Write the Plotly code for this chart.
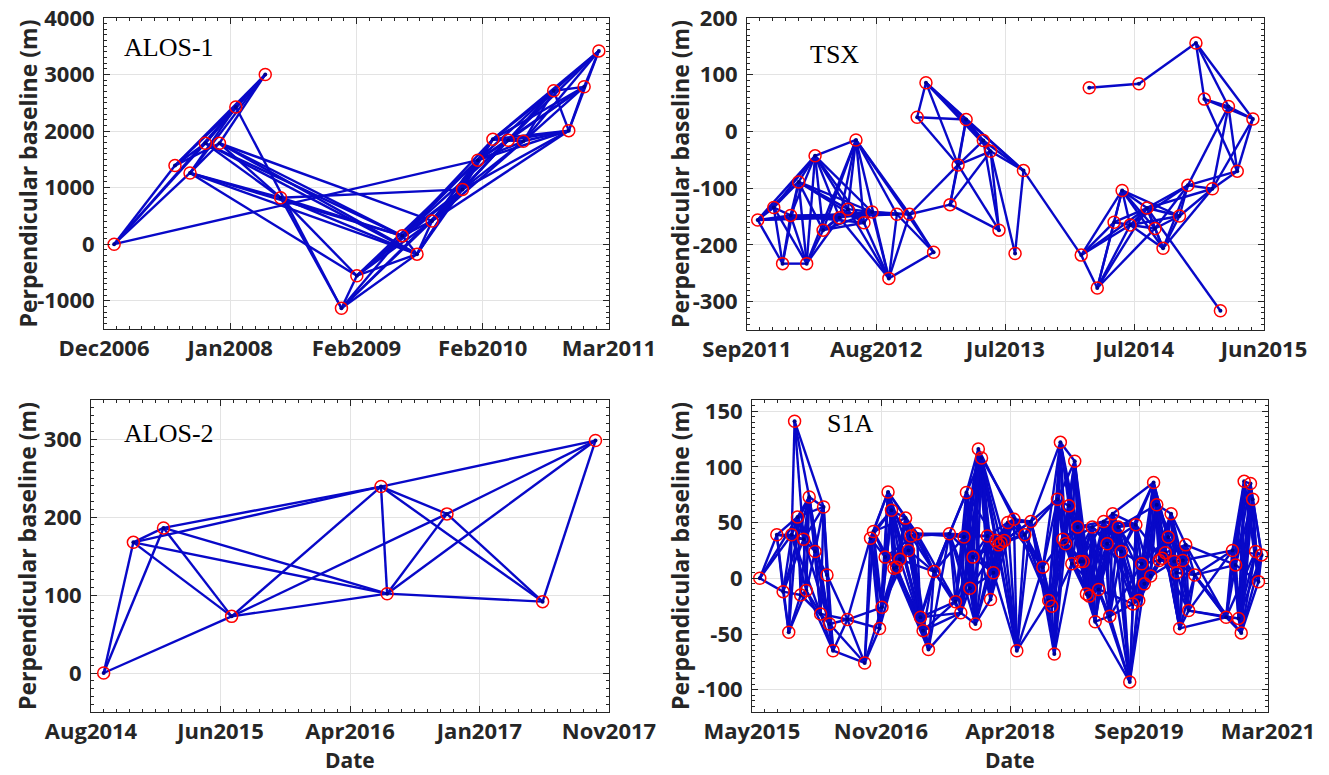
import numpy as np
import pandas as pd
import plotly.graph_objects as go

W, H = 1329, 775

# ---------------- ALOS-1 ----------------
alos1_dates = ["2007-01-25", "2007-07-30", "2007-09-14", "2007-10-31", "2007-12-13", "2008-02-01",
               "2008-05-01", "2008-06-17", "2008-12-20", "2009-02-05", "2009-06-24", "2009-08-08",
               "2009-09-23", "2009-12-25", "2010-02-10", "2010-03-28", "2010-05-14", "2010-06-29",
               "2010-09-30", "2010-11-15", "2011-01-01", "2011-02-15"]
alos1_bperp = [0, 1390, 1260, 1785, 1785, 2425, 3000, 822, -1133, -558, 147, -176,
               411, 969, 1486, 1856, 1838, 1820, 2713, 2008, 2783, 3418]
alos1_pairs = """1-2 1-3 1-4 1-6 1-15 2-4 2-5 2-6 2-7 3-5 3-6 3-7 3-8 3-10 3-11 3-12
4-6 4-7 4-8 4-11 4-12 5-7 5-8 5-11 5-12 5-13 6-7 6-9 8-9 8-10 8-11 8-12 8-14
9-10 9-11 9-12 9-13 9-14 10-11 10-12 10-13 10-14 10-15 11-12 11-13 11-14 11-15 11-16 11-17
12-13 12-14 12-15 12-16 13-14 13-15 13-16 13-17 13-18 13-20 14-15 14-16 14-17 14-18 14-19 14-20
15-16 15-17 15-18 15-19 15-20 15-21 16-17 16-18 16-19 16-20 16-21 16-22 17-18 17-19 17-20 17-21 17-22
18-19 18-20 18-21 18-22 19-20 19-21 19-22 20-21 20-22 21-22"""
alos1_xlim = ["2006-12-25", "2011-03-18"]
alos1_xticklabels = ["Dec2006", "Jan2008", "Feb2009", "Feb2010", "Mar2011"]
alos1_ylim = [-1500, 4000]
alos1_yticks = [-1000, 0, 1000, 2000, 3000, 4000]

# ---------------- TSX ----------------
tsx_dates = ["2011-10-19", "2011-11-30", "2011-12-23", "2012-01-13", "2012-02-03", "2012-02-24",
             "2012-03-17", "2012-04-07", "2012-05-20", "2012-06-11", "2012-07-02", "2012-07-23",
             "2012-08-13", "2012-09-26", "2012-10-17", "2012-11-19", "2012-12-09", "2013-01-01",
             "2013-01-21", "2013-03-05", "2013-03-26", "2013-04-16", "2013-05-31", "2013-06-19",
             "2013-07-11", "2013-08-22", "2013-09-13", "2014-02-11", "2014-03-04", "2014-03-25",
             "2014-05-08", "2014-05-29", "2014-06-19", "2014-07-12", "2014-08-02", "2014-08-23",
             "2014-09-13", "2014-10-26", "2014-11-17", "2014-12-08", "2014-12-30", "2015-01-20",
             "2015-02-10", "2015-03-03", "2015-03-26", "2015-05-06"]
tsx_bperp = [-156, -134, -233, -148, -89, -233, -43, -174, -152, -137, -15, -161,
             -142, -259, -146, -146, 25, 86, -213, -129, -59, 21, -16, -35,
             -174, -215, -69, -218, 77, -276, -160, -104, -165, 84, -135, -171,
             -206, -149, -95, 156, 57, -101, -316, 44, -70, 22]
tsx_pairs = """1-2 1-3 1-4 1-5 1-7 1-9 1-13 1-15 2-3 2-4 2-5 2-6 2-7 3-4 3-5 3-6 4-5 4-6 4-7 4-12 4-15
5-6 5-7 5-8 5-10 5-12 5-13 6-7 6-8 6-9 6-11 7-8 7-9 7-10 7-11 7-12 7-13 8-9 8-10 8-11 8-12 8-13
9-11 9-13 9-14 10-11 10-13 10-14 11-12 11-14 11-15 11-16 11-19 12-13 12-14 13-14 13-15 13-16
14-15 14-16 14-19 15-16 15-19 16-19 16-20 16-21 17-18 17-21 17-22 18-21 18-22 18-23 18-24 18-27
20-21 20-22 20-24 20-25 21-22 21-23 21-24 21-25 22-23 22-24 22-27 23-24 23-25 23-27 24-25 24-26 24-27
26-27 27-28 28-30 28-31 28-32 28-33 28-35 29-34 34-40 30-31 30-32 30-33 30-35 30-36 31-32 31-33 31-35
32-33 32-35 32-36 32-37 32-38 33-35 33-36 33-37 33-38 33-39 35-36 35-37 35-38 35-39 35-42 35-43
36-37 36-38 36-39 37-38 37-39 37-42 38-39 38-42 39-42 39-44 39-45 40-41 40-44 40-46 41-44 41-45 41-46
42-44 42-45 42-46 44-45 44-46 45-46"""
tsx_xlim = ["2011-09-21", "2015-06-04"]
tsx_xticklabels = ["Sep2011", "Aug2012", "Jul2013", "Jul2014", "Jun2015"]
tsx_ylim = [-350, 200]
tsx_yticks = [-300, -200, -100, 0, 100, 200]

# ---------------- ALOS-2 ----------------
alos2_dates = ["2014-09-13", "2014-11-20", "2015-01-28", "2015-07-03", "2016-06-09",
               "2016-06-23", "2016-11-07", "2017-06-14", "2017-10-13"]
alos2_bperp = [0, 167.5, 186, 72.6, 239, 101.7, 204, 91.5, 298]
alos2_pairs = """1-2 1-3 1-4 2-3 2-4 2-5 2-6 3-4 3-5 3-6 4-5 4-6 4-7 5-6 5-7 5-8 5-9
6-7 6-8 6-9 7-8 7-9 8-9"""
alos2_xlim = ["2014-08-15", "2017-11-13"]
alos2_xticklabels = ["Aug2014", "Jun2015", "Apr2016", "Jan2017", "Nov2017"]
alos2_ylim = [-50, 350]
alos2_yticks = [0, 100, 200, 300]

# ---------------- S1A ----------------
s1a_dates = ["2015-06-23", "2015-09-01", "2015-09-27", "2015-10-20", "2015-11-01", "2015-11-13",
             "2015-11-25", "2015-12-08", "2015-12-20", "2015-12-31", "2016-01-12", "2016-02-05",
             "2016-02-28", "2016-03-11", "2016-03-25", "2016-04-05", "2016-04-19", "2016-06-17",
             "2016-08-27", "2016-09-20", "2016-10-02", "2016-10-27", "2016-11-06", "2016-11-19",
             "2016-12-01", "2016-12-15", "2016-12-25", "2017-01-05", "2017-01-19", "2017-02-11",
             "2017-02-23", "2017-03-05", "2017-03-30", "2017-04-13", "2017-04-24", "2017-05-16",
             "2017-06-08", "2017-08-10", "2017-09-04", "2017-09-26", "2017-10-09", "2017-10-19",
             "2017-11-02", "2017-11-15", "2017-11-25", "2017-12-07", "2017-12-20", "2018-01-13",
             "2018-01-26", "2018-02-07", "2018-02-17", "2018-02-28", "2018-03-10", "2018-03-24",
             "2018-04-07", "2018-05-02", "2018-05-14", "2018-06-16", "2018-07-11", "2018-08-29",
             "2018-09-22", "2018-10-05", "2018-10-15", "2018-10-28", "2018-11-09", "2018-11-19",
             "2018-12-01", "2018-12-14", "2018-12-26", "2019-01-07", "2019-01-19", "2019-01-30",
             "2019-02-11", "2019-02-24", "2019-03-08", "2019-03-20", "2019-04-01", "2019-04-15",
             "2019-05-06", "2019-05-20", "2019-05-31", "2019-06-12", "2019-07-05", "2019-07-17",
             "2019-08-21", "2019-09-03", "2019-09-15", "2019-09-27", "2019-10-09", "2019-10-20",
             "2019-11-15", "2019-11-27", "2019-12-10", "2019-12-20", "2020-01-01", "2020-01-14",
             "2020-01-26", "2020-02-07", "2020-02-20", "2020-03-01", "2020-03-13", "2020-03-26",
             "2020-04-07", "2020-04-19", "2020-05-14", "2020-09-20", "2020-10-16", "2020-10-29",
             "2020-11-10", "2020-11-21", "2020-12-03", "2020-12-29", "2021-01-07", "2021-01-19",
             "2021-01-31", "2021-02-13"]
s1a_bperp = [0, 39, -12, -48.5, 39, 141, 55, -15, 35, -11, 73, 24,
             -32, 64, 3, -41, -65, -37, -76, 36, 42, -45, -26, 19,
             77.5, 61, 9, 10, 17, 54, 25, 38, 40, -35, -47, -64,
             6, 40, -21, -31, 37, 77, -9, 19, -41, 116, 108, 38,
             -19, 5, 34, 30, 32, 34, 50, 53, -65, 39, 51, 10,
             -20, -25, -68, 71, 122, 35, 31, 65, 13, 105, 46, 15,
             15, -14, -16, 46, -39, -10, 51, 31, -34, 58, 46, 24,
             -93, -23, 48, -20, 13, -5, 2, 86, 66, 16, 18, 23,
             37, 58, 15, 5, -45, 16, 30, -29, 3, -35, 25, 12,
             -36, -49, 87, 85, 71, 24, -3, 21]
s1a_links = {
    1: [2, 3, 5, 7], 2: [3, 4, 5, 7, 9], 3: [4, 5, 8, 9, 11], 4: [5, 7, 8, 10],
    5: [6, 7, 9, 10, 11, 13], 6: [9, 11, 14], 7: [8, 9, 11, 12, 14], 8: [10, 11, 13, 16],
    9: [10, 11, 12, 14, 16], 10: [11, 12, 13, 17], 11: [12, 13, 14, 16, 17], 12: [13, 14, 15, 17],
    13: [14, 16, 17, 18], 14: [15, 16, 17], 15: [16, 17, 18], 16: [17, 18, 19], 17: [18, 19],
    18: [19, 20, 22, 23], 19: [20, 21, 22, 23], 20: [21, 22, 23, 24, 25, 26],
    21: [22, 23, 24, 25, 26, 27, 30], 22: [23, 24, 25, 26, 28], 23: [24, 25, 26, 27, 29, 31],
    24: [25, 26, 27, 28, 29, 31, 33], 25: [26, 27, 28, 30, 31, 33, 34, 35],
    26: [27, 28, 29, 30, 32, 35, 36], 27: [28, 29, 30, 31, 34, 36], 28: [29, 30, 31, 33, 35, 36],
    29: [30, 31, 32, 33, 35, 37], 30: [31, 32, 33, 34, 36, 37], 31: [32, 33, 34, 35, 37],
    32: [33, 35, 36, 37, 38], 33: [34, 37, 38, 39, 41], 34: [35, 37, 38, 39, 40],
    35: [36, 37, 39, 40], 36: [37, 38, 40], 37: [38, 39, 40, 41, 42],
    38: [39, 40, 41, 42, 43, 44, 45, 48], 39: [40, 41, 42, 43, 44, 46],
    40: [41, 42, 43, 44, 45, 46, 47], 41: [42, 43, 44, 45, 47, 48, 50],
    42: [43, 44, 45, 46, 47, 49, 51], 43: [44, 45, 46, 48, 50, 52],
    44: [45, 46, 47, 48, 50, 51, 53], 45: [46, 47, 48, 49, 51, 52],
    46: [47, 48, 49, 50, 53, 56, 57], 47: [48, 49, 50, 51, 54, 57, 58],
    48: [49, 50, 51, 52, 53, 55], 49: [50, 51, 52, 53, 54, 56], 50: [51, 52, 53, 54, 55, 57],
    51: [52, 53, 54, 55, 56], 52: [53, 54, 55, 56, 58], 53: [54, 55, 56, 57, 59],
    54: [55, 56, 57, 58, 59], 55: [56, 57, 58, 59, 60], 56: [57, 58, 59, 60, 61],
    57: [58, 59, 60, 61], 58: [59, 60, 61, 62, 64], 59: [60, 61, 62, 63, 64, 65],
    60: [61, 62, 63, 64, 65, 66], 61: [62, 63, 64, 65, 67, 68], 62: [63, 64, 66, 67, 69],
    63: [64, 65, 66, 68, 69], 64: [65, 66, 67, 68, 69, 70, 71], 65: [66, 67, 68, 70, 71, 72, 74],
    66: [67, 68, 69, 70, 71, 73, 75], 67: [68, 69, 70, 71, 72, 74, 76],
    68: [69, 70, 71, 72, 73, 75, 77], 69: [70, 71, 72, 73, 74, 76, 78],
    70: [71, 72, 73, 74, 75, 77], 71: [72, 73, 74, 75, 76, 78, 79], 72: [73, 74, 75, 76, 77, 79, 80],
    73: [74, 75, 76, 77, 78, 81], 74: [75, 76, 77, 78, 79, 82], 75: [76, 77, 78, 79, 80, 83],
    76: [77, 78, 79, 80, 81, 84], 77: [78, 79, 80, 81, 82, 85], 78: [79, 80, 81, 82, 83, 85, 86],
    79: [80, 81, 82, 83, 84, 86, 87], 80: [81, 82, 83, 84, 85, 87, 88], 81: [82, 83, 84, 85, 86, 89],
    82: [83, 84, 85, 86, 87, 90, 92], 83: [84, 85, 86, 87, 88, 91, 93], 84: [85, 86, 87, 88, 89, 92],
    85: [86, 87, 88, 89, 90], 86: [87, 88, 89, 90, 91, 94], 87: [88, 89, 90, 91, 92, 95],
    88: [89, 90, 91, 92, 93, 96], 89: [90, 91, 92, 93, 94, 97], 90: [91, 92, 93, 94, 95, 98],
    91: [92, 93, 94, 95, 96, 99], 92: [93, 94, 95, 96, 97, 100, 101],
    93: [94, 95, 96, 97, 98, 101, 102], 94: [95, 96, 97, 98, 99, 103],
    95: [96, 97, 98, 99, 100, 104], 96: [97, 98, 99, 100, 101, 103],
    97: [98, 99, 100, 101, 102, 105], 98: [99, 100, 101, 102, 103, 104],
    99: [100, 101, 102, 103, 105], 100: [101, 102, 103, 104, 105], 101: [102, 103, 104, 105, 106],
    102: [103, 104, 105, 106, 107], 103: [104, 105, 106, 108], 104: [105, 106, 107, 109],
    105: [106, 107, 108, 110], 106: [107, 108, 109, 110, 111, 114],
    107: [108, 109, 110, 111, 112, 116], 108: [109, 110, 111, 112, 113, 115],
    109: [110, 111, 112, 113, 114, 116], 110: [111, 112, 113, 114, 115, 116],
    111: [112, 113, 114, 115], 112: [113, 114, 115, 116], 113: [114, 115, 116],
    114: [115, 116], 115: [116],
}
s1a_xlim = ["2015-05-22", "2021-03-11"]
s1a_xticklabels = ["May2015", "Nov2016", "Apr2018", "Sep2019", "Mar2021"]
s1a_ylim = [-120, 160]
s1a_yticks = [-100, -50, 0, 50, 100, 150]

# ---------------- styling ----------------
BLUE = "#0808c8"
AXC = "#262626"
GRID = "#e3e3e3"
TICKFONT = dict(family="Open Sans", size=22, color=AXC, weight="bold")
TITLEFONT = dict(family="Open Sans", size=23, color=AXC, weight="bold")
DATEFONT = dict(family="Open Sans", size=21, color=AXC, weight="bold")
LABELFONT = dict(family="Liberation Serif", size=26, color="black")


def parse_pairs(s):
    return [tuple(int(v) for v in p.split("-")) for p in s.split()]


def links_to_pairs(d):
    return [(a, b) for a, bs in d.items() for b in bs]


panels = [
    dict(name="ALOS-1", dates=alos1_dates, vals=alos1_bperp, pairs=parse_pairs(alos1_pairs),
         xlim=alos1_xlim, xlab=alos1_xticklabels, ylim=alos1_ylim, yticks=alos1_yticks, ymin=100,
         box=(104, 609, 18, 329), lab=(169, 48)),
    dict(name="TSX", dates=tsx_dates, vals=tsx_bperp, pairs=parse_pairs(tsx_pairs),
         xlim=tsx_xlim, xlab=tsx_xticklabels, ylim=tsx_ylim, yticks=tsx_yticks, ymin=10,
         box=(747, 1264, 18, 330), lab=(834, 54)),
    dict(name="ALOS-2", dates=alos2_dates, vals=alos2_bperp, pairs=parse_pairs(alos2_pairs),
         xlim=alos2_xlim, xlab=alos2_xticklabels, ylim=alos2_ylim, yticks=alos2_yticks, ymin=10,
         box=(91, 609, 400, 712), lab=(169, 433)),
    dict(name="S1A", dates=s1a_dates, vals=s1a_bperp, pairs=links_to_pairs(s1a_links),
         xlim=s1a_xlim, xlab=s1a_xticklabels, ylim=s1a_ylim, yticks=s1a_yticks, ymin=5,
         box=(752, 1268, 400, 712), lab=(850, 423)),
]

fig = go.Figure()
layout = {}
annotations = []

for i, p in enumerate(panels, start=1):
    sfx = "" if i == 1 else str(i)
    xs, ys = [], []
    for a, b in p["pairs"]:
        xs += [p["dates"][a - 1], p["dates"][b - 1], None]
        ys += [p["vals"][a - 1], p["vals"][b - 1], None]
    common = dict(xaxis="x" + sfx, yaxis="y" + sfx, showlegend=False, hoverinfo="skip")
    fig.add_trace(go.Scatter(x=xs, y=ys, mode="lines", line=dict(color=BLUE, width=2.4),
                             connectgaps=False, **common))
    fig.add_trace(go.Scatter(x=p["dates"], y=p["vals"], mode="markers",
                             marker=dict(symbol="circle", size=4, color="#00008b"), **common))
    fig.add_trace(go.Scatter(x=p["dates"], y=p["vals"], mode="markers",
                             marker=dict(symbol="circle-open", size=12, color="red",
                                         line=dict(width=1.5, color="red")), **common))

    l, r, t, b = p["box"]
    x0, x1 = pd.Timestamp(p["xlim"][0]), pd.Timestamp(p["xlim"][1])
    major = pd.date_range(x0, x1, periods=5)
    minor = pd.date_range(x0, x1, periods=41)
    layout["xaxis" + sfx] = dict(
        domain=[l / W, r / W], anchor="y" + sfx, type="date", range=[x0, x1],
        automargin=False,
        tickmode="array", tickvals=list(major), ticktext=p["xlab"],
        showgrid=True, gridcolor=GRID, gridwidth=1, zeroline=False,
        showline=True, linecolor=AXC, linewidth=1, mirror="ticks",
        ticks="inside", ticklen=6, tickwidth=1, tickcolor=AXC,
        minor=dict(tickmode="array", tickvals=list(minor), ticks="inside", ticklen=3,
                   tickcolor=AXC, showgrid=False),
        tickfont=TICKFONT, ticklabelstandoff=0,
    )
    y0, y1 = p["ylim"]
    layout["yaxis" + sfx] = dict(
        domain=[1 - b / H, 1 - t / H], anchor="x" + sfx, range=[y0, y1],
        automargin=False,
        tickmode="array", tickvals=p["yticks"], ticktext=[str(v) for v in p["yticks"]],
        showgrid=True, gridcolor=GRID, gridwidth=1, zeroline=False,
        showline=True, linecolor=AXC, linewidth=1, mirror="ticks",
        ticks="inside", ticklen=6, tickwidth=1, tickcolor=AXC,
        minor=dict(tick0=0, dtick=p["ymin"], ticks="inside", ticklen=3,
                   tickcolor=AXC, showgrid=False),
        tickfont=TICKFONT, ticklabelstandoff=4,
    )
    annotations.append(dict(text=p["name"], x=p["lab"][0] / W, y=1 - p["lab"][1] / H,
                            xref="paper", yref="paper", showarrow=False, font=LABELFONT,
                            xanchor="center", yanchor="middle"))
    ytx = 27 if l < 400 else 680
    annotations.append(dict(text="Perpendicular baseline (m)", x=ytx / W, y=1 - (t + b) / 2 / H,
                            xref="paper", yref="paper", showarrow=False, textangle=-90,
                            font=TITLEFONT, xanchor="center", yanchor="middle"))
    if t > 300:
        annotations.append(dict(text="Date", x=(l + r) / 2 / W, y=0,
                                xref="paper", yref="paper", showarrow=False,
                                font=DATEFONT, xanchor="center", yanchor="bottom",
                                borderpad=0, yshift=0))

fig.update_layout(
    width=W, height=H, margin=dict(l=0, r=0, t=0, b=0, autoexpand=False),
    paper_bgcolor="white", plot_bgcolor="white",
    annotations=annotations, **layout,
)

fig.write_html("out.html")
